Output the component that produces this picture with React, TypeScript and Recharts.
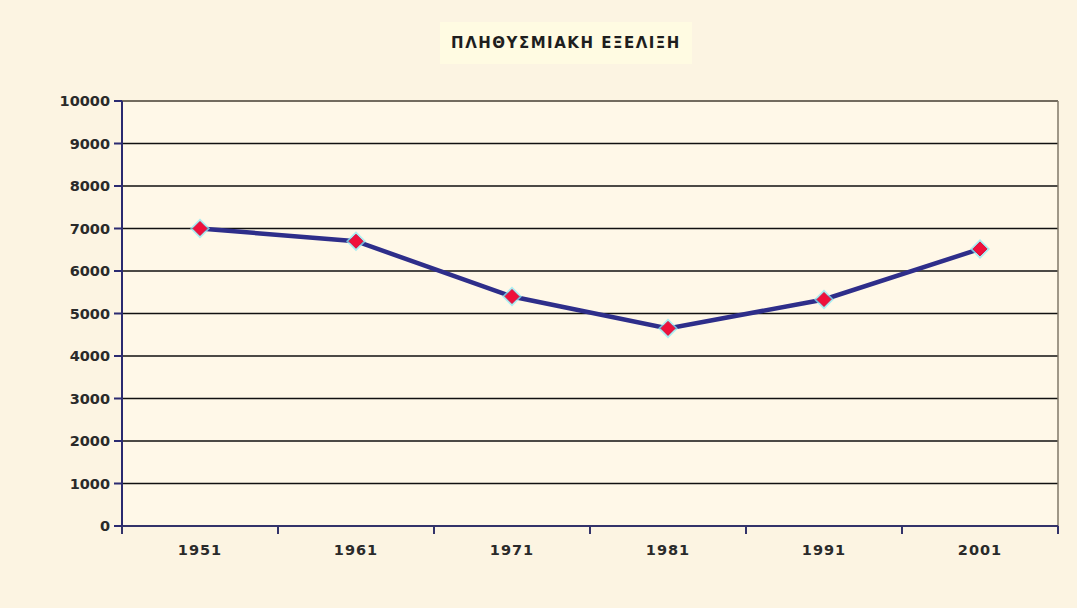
import {
  CartesianGrid,
  Line,
  LineChart,
  ReferenceLine,
  XAxis,
  YAxis,
} from 'recharts';

const years = ['1951', '1961', '1971', '1981', '1991', '2001'];
const population = [7000, 6700, 5400, 4650, 5330, 6520];
const yTicks = [0, 1000, 2000, 3000, 4000, 5000, 6000, 7000, 8000, 9000, 10000];

const data = years.map((year, i) => ({ pos: i + 0.5, year, value: population[i] }));
const boundaries = years.map((_, i) => i).concat(years.length);
const centers = years.map((_, i) => i + 0.5);

const labelFont = { fontFamily: 'DejaVu Sans', fontWeight: 700, fontSize: 14.5, fill: '#2a2a2a' };

function Diamond(props: any) {
  const { cx, cy } = props;
  if (cx == null || cy == null) return null;
  const r = 10;
  const s = 7;
  return (
    <g>
      <polygon
        points={`${cx},${cy - r} ${cx + r},${cy} ${cx},${cy + r} ${cx - r},${cy}`}
        fill='#8eeaf4'
        opacity={0.75}
      />
      <polygon
        points={`${cx},${cy - s} ${cx + s},${cy} ${cx},${cy + s} ${cx - s},${cy}`}
        fill='#f0103a'
        stroke='#d01040'
        strokeWidth={1}
      />
    </g>
  );
}

export default function App() {
  return (
    <div
      style={{
        position: 'absolute',
        left: 0,
        top: 0,
        width: 1077,
        height: 608,
        background: '#fcf4e2',
      }}
    >
      <div
        style={{
          position: 'absolute',
          left: 440,
          top: 22,
          width: 252,
          height: 42,
          background: '#fffbe2',
          display: 'flex',
          alignItems: 'center',
          justifyContent: 'center',
          fontFamily: 'DejaVu Sans',
          fontWeight: 700,
          fontSize: 15,
          letterSpacing: 1.5,
          color: '#1e1e1e',
        }}
      >
        ΠΛΗΘΥΣΜΙΑΚΗ ΕΞΕΛΙΞΗ
      </div>
      <LineChart
        width={1077}
        height={608}
        data={data}
        margin={{ top: 101, right: 19, bottom: 30, left: 0 }}
        style={{ position: 'absolute', left: 0, top: 0 }}
      >
        <CartesianGrid vertical={false} stroke='#111' strokeWidth={1.5} fill='#fff8e8' />
        <XAxis
          xAxisId={0}
          dataKey='pos'
          type='number'
          domain={[0, years.length]}
          ticks={boundaries}
          tickFormatter={() => ''}
          tickSize={8}
          height={8}
          stroke='#33336a'
          strokeWidth={2}
        />
        <XAxis
          xAxisId={1}
          dataKey='pos'
          type='number'
          domain={[0, years.length]}
          ticks={centers}
          tickFormatter={(v: number) => years[Math.floor(v)]}
          axisLine={false}
          tickLine={false}
          tick={{ ...labelFont, letterSpacing: 1 }}
          tickMargin={5}
          height={44}
        />
        <YAxis
          type='number'
          domain={[0, 10000]}
          ticks={yTicks}
          width={122}
          tick={labelFont}
          tickSize={8}
          tickMargin={4}
          stroke='#2a2a70'
          strokeWidth={2}
          interval={0}
        />
        <ReferenceLine xAxisId={0} y={10000} stroke='#807868' strokeWidth={1.5} />
        <ReferenceLine xAxisId={0} x={years.length} stroke='#807868' strokeWidth={1.5} />
        <Line
          xAxisId={0}
          dataKey='value'
          stroke='#2e2e8a'
          strokeWidth={4.5}
          dot={<Diamond />}
          activeDot={false}
          isAnimationActive={false}
        />
      </LineChart>
    </div>
  );
}
